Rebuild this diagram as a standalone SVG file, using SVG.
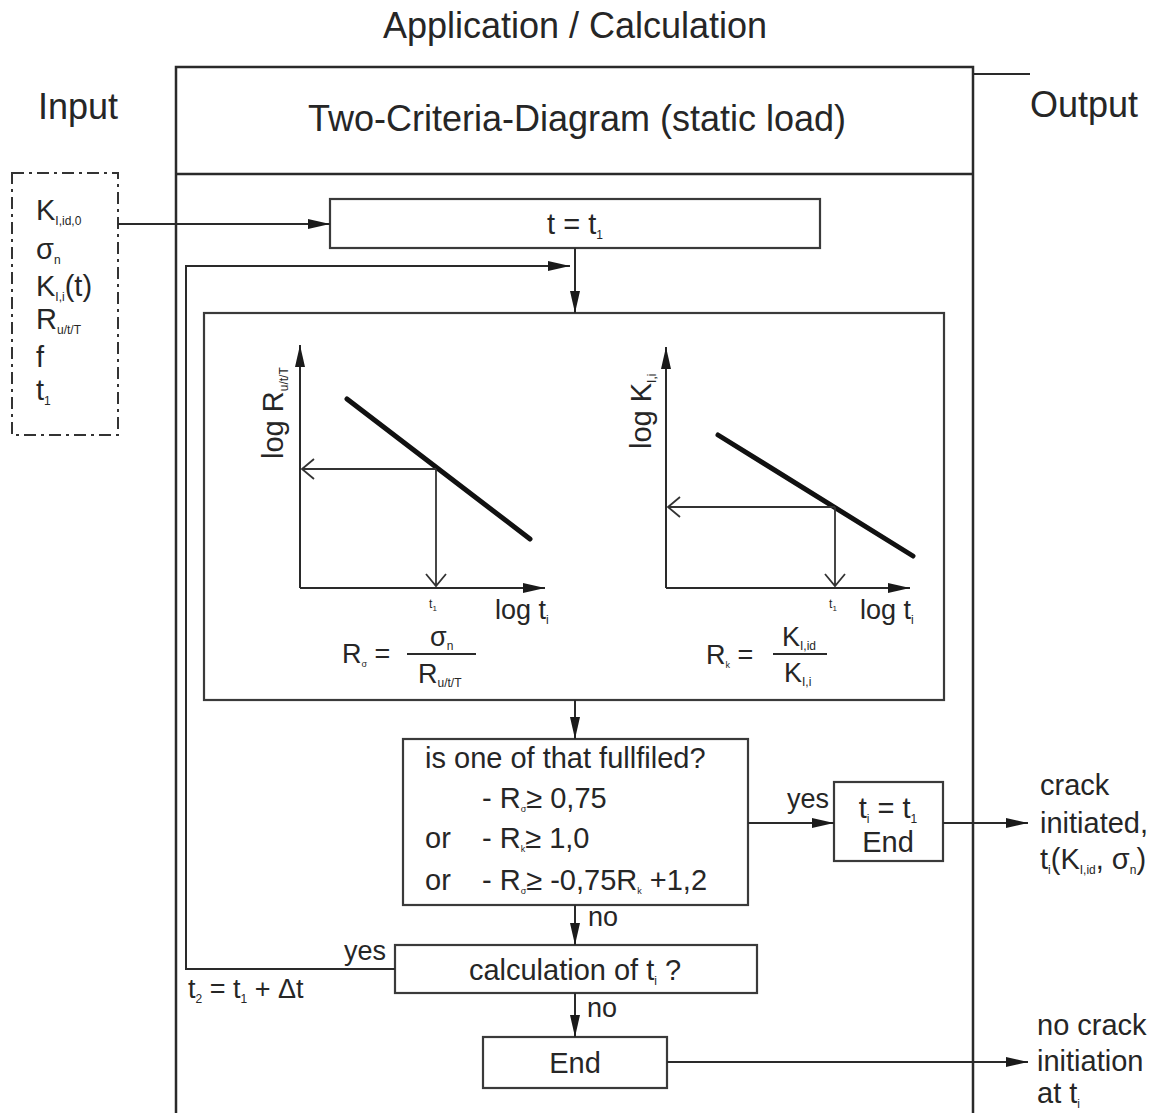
<svg xmlns="http://www.w3.org/2000/svg" width="1166" height="1113" viewBox="0 0 1166 1113">
<style>
text{font-family:"Liberation Sans",Arial,sans-serif;fill:#262626}
.big{font-size:36px}
.m{font-size:29px}
.c{font-size:27px}
.rl{font-size:29px}
.sub{font-size:12px}
.ln{fill:none;stroke:#2a2a2a;stroke-width:2}
.fr{fill:none;stroke:#2a2a2a;stroke-width:2.5}
.bx{fill:#fff;stroke:#3a3a3a;stroke-width:2.2}
.thick{fill:none;stroke:#111;stroke-width:5;stroke-linecap:round}
.thin{fill:none;stroke:#333;stroke-width:1.8}
</style>
<defs>
<marker id="ah" markerWidth="22" markerHeight="10" refX="22" refY="5" orient="auto" markerUnits="userSpaceOnUse"><path d="M0,0 L22,5 L0,10 Z" fill="#1a1a1a"/></marker>
</defs>
<rect width="1166" height="1113" fill="#fff"/>

<g id="frame">
<path class="fr" d="M176,1113 V67 H973 V1113"/>
<path class="fr" d="M176,174 H973"/>
<path class="ln" d="M973,74 H1030"/>
<text class="big" x="575" y="38" text-anchor="middle">Application / Calculation</text>
<text class="big" x="577" y="131" text-anchor="middle">Two-Criteria-Diagram (static load)</text>
<text class="big" x="38" y="119">Input</text>
<text class="big" x="1030" y="117">Output</text>
</g>

<g id="input">
<rect x="12" y="173" width="106" height="262" fill="none" stroke="#333" stroke-width="2" stroke-dasharray="12,5,3,5"/>
<text class="m" x="36" y="220">K<tspan class="sub" dy="5">I,id,0</tspan></text>
<text class="m" x="36" y="259">σ<tspan class="sub" dy="5">n</tspan></text>
<text class="m" x="36" y="296">K<tspan class="sub" dy="5">I,i</tspan><tspan dy="-5">(t)</tspan></text>
<text class="m" x="36" y="329">R<tspan class="sub" dy="5">u/t/T</tspan></text>
<text class="m" x="36" y="367">f</text>
<text class="m" x="36" y="400">t<tspan class="sub" dy="5">1</tspan></text>
</g>

<g id="start">
<rect class="bx" x="330" y="199" width="490" height="49"/>
<text class="m" x="575" y="234" text-anchor="middle">t = t<tspan class="sub" dy="5">1</tspan></text>
</g>

<g id="charts">
<rect class="bx" x="204" y="313" width="740" height="387"/>
<!-- left chart -->
<path class="ln" d="M300,588 V345" marker-end="url(#ah)"/>
<path class="ln" d="M300,588 H545" marker-end="url(#ah)"/>
<path class="thick" d="M347,399 L530,539"/>
<path class="thin" d="M436,469 H302 M314,459 L302,469 L314,479"/>
<path class="thin" d="M436,469 V586 M426,574 L436,586 L446,574"/>
<text x="433" y="608" font-size="12" text-anchor="middle">t<tspan font-size="8" dy="3">1</tspan></text>
<text class="c" x="495" y="619">log t<tspan class="sub" dy="5">i</tspan></text>
<text class="rl" transform="translate(283,459) rotate(-90)">log R<tspan class="sub" dy="5">u/t/T</tspan></text>
<text class="c" x="342" y="663">R<tspan font-size="9" dy="4">σ</tspan><tspan dy="-4"> =</tspan></text>
<path class="ln" d="M407,654 H476" stroke-width="1.6"/>
<text class="c" x="430" y="646">σ<tspan class="sub" dy="4">n</tspan></text>
<text class="c" x="418" y="683">R<tspan class="sub" dy="4">u/t/T</tspan></text>
<!-- right chart -->
<path class="ln" d="M666,588 V347" marker-end="url(#ah)"/>
<path class="ln" d="M666,588 H910" marker-end="url(#ah)"/>
<path class="thick" d="M718,435 L913,556"/>
<path class="thin" d="M835,507 H668 M680,497 L668,507 L680,517"/>
<path class="thin" d="M835,507 V586 M825,574 L835,586 L845,574"/>
<text x="833" y="608" font-size="12" text-anchor="middle">t<tspan font-size="8" dy="3">1</tspan></text>
<text class="c" x="860" y="619">log t<tspan class="sub" dy="5">i</tspan></text>
<text class="rl" transform="translate(651,449) rotate(-90)">log K<tspan class="sub" dy="5">I,i</tspan></text>
<text class="c" x="706" y="664">R<tspan font-size="9" dy="4">k</tspan><tspan dy="-4"> =</tspan></text>
<path class="ln" d="M773,654 H827" stroke-width="1.6"/>
<text class="c" x="782" y="646">K<tspan class="sub" dy="4">I,id</tspan></text>
<text class="c" x="784" y="682">K<tspan class="sub" dy="4">I,i</tspan></text>
</g>

<g id="decision">
<rect class="bx" x="403" y="739" width="345" height="166"/>
<text class="m" x="425" y="768">is one of that fullfiled?</text>
<text class="m" x="482" y="808">- R<tspan font-size="9" dy="4">σ</tspan><tspan dy="-4">≥ 0,75</tspan></text>
<text class="m" x="425" y="848">or</text>
<text class="m" x="482" y="848">- R<tspan font-size="9" dy="4">k</tspan><tspan dy="-4">≥ 1,0</tspan></text>
<text class="m" x="425" y="890">or</text>
<text class="m" x="482" y="890">- R<tspan font-size="9" dy="4">σ</tspan><tspan dy="-4">≥ -0,75R</tspan><tspan font-size="9" dy="4">k</tspan><tspan dy="-4"> +1,2</tspan></text>
</g>

<g id="end1">
<rect class="bx" x="834" y="782" width="109" height="79"/>
<text class="m" x="888" y="818" text-anchor="middle">t<tspan class="sub" dy="5">i</tspan><tspan dy="-5"> = t</tspan><tspan class="sub" dy="5">1</tspan></text>
<text class="m" x="888" y="852" text-anchor="middle">End</text>
</g>

<g id="calc">
<rect class="bx" x="395" y="945" width="362" height="48"/>
<text class="m" x="575" y="980" text-anchor="middle">calculation of t<tspan class="sub" dy="5">i</tspan><tspan dy="-5"> ?</tspan></text>
</g>

<g id="end2">
<rect class="bx" x="483" y="1037" width="184" height="51"/>
<text class="m" x="575" y="1073" text-anchor="middle">End</text>
</g>

<g id="outputs">
<text class="m" x="1040" y="795">crack</text>
<text class="m" x="1040" y="833">initiated,</text>
<text class="m" x="1040" y="869">t<tspan class="sub" dy="5">i</tspan><tspan dy="-5">(K</tspan><tspan class="sub" dy="5">I,id</tspan><tspan dy="-5">, σ</tspan><tspan class="sub" dy="5">n</tspan><tspan dy="-5">)</tspan></text>
<text class="m" x="1037" y="1035">no crack</text>
<text class="m" x="1037" y="1071">initiation</text>
<text class="m" x="1037" y="1103">at t<tspan class="sub" dy="5">i</tspan></text>
</g>

<g id="connectors">
<path class="ln" d="M118,224 H330" marker-end="url(#ah)"/>
<path class="ln" d="M575,248 V313" marker-end="url(#ah)"/>
<path class="ln" d="M395,969 H186 V266 H570" marker-end="url(#ah)"/>
<path class="ln" d="M575,700 V739" marker-end="url(#ah)"/>
<path class="ln" d="M748,823 H834" marker-end="url(#ah)"/>
<path class="ln" d="M943,823 H1028" marker-end="url(#ah)"/>
<path class="ln" d="M575,905 V945" marker-end="url(#ah)"/>
<path class="ln" d="M575,993 V1037" marker-end="url(#ah)"/>
<path class="ln" d="M667,1062 H1028" marker-end="url(#ah)"/>
<text class="c" x="787" y="808">yes</text>
<text class="c" x="588" y="926">no</text>
<text class="c" x="587" y="1017">no</text>
<text class="c" x="344" y="960">yes</text>
<text class="c" x="188" y="998">t<tspan class="sub" dy="5">2</tspan><tspan dy="-5"> = t</tspan><tspan class="sub" dy="5">1</tspan><tspan dy="-5"> + Δt</tspan></text>
</g>
</svg>
